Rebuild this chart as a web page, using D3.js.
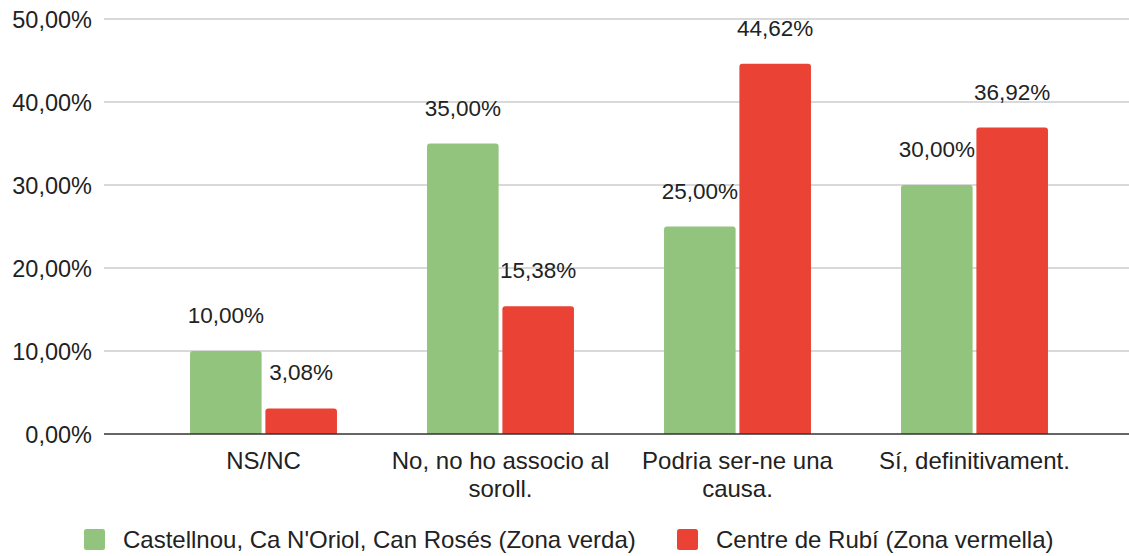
<!DOCTYPE html>
<html>
<head>
<meta charset="utf-8">
<script src="https://cdn.jsdelivr.net/npm/d3@7"></script>
<style>
	body { margin: 0; background: #fff; }
	text { font-family: "Liberation Sans", Arial, sans-serif; fill: #222; }
</style>
</head>
<body>
<svg id="chart" width="1129" height="556"></svg>
<script>
var categories = ["NS/NC", "No, no ho associo al soroll.", "Podria ser-ne una causa.", "Sí, definitivament."];
var series_names = ["Castellnou, Ca N'Oriol, Can Rosés (Zona verda)", "Centre de Rubí (Zona vermella)"];
var verda = [10.00, 35.00, 25.00, 30.00];
var vermella = [3.08, 15.38, 44.62, 36.92];
var y_ticks = [0, 10, 20, 30, 40, 50];
var colors = ["#93c47d", "#ea4335"];

var svg = d3.select("#chart");

var x = d3.scaleBand()
	.domain(categories)
	.range([145, 1093])
	.paddingInner(0.38)
	.paddingOuter(0.19);

var xInner = d3.scaleBand()
	.domain([0, 1])
	.range([0, x.bandwidth()])
	.paddingInner(0.05);

var y = d3.scaleLinear()
	.domain([0, 50])
	.range([434, 19]);

var fmt = function(v) { return v.toFixed(2).replace(".", ",") + "%"; };

// gridlines
svg.append("g")
	.selectAll("line")
	.data(y_ticks.slice(1))
	.enter()
	.append("line")
	.attr("x1", 104)
	.attr("x2", 1129)
	.attr("y1", function(d) { return y(d); })
	.attr("y2", function(d) { return y(d); })
	.attr("stroke", "#cccccc")
	.attr("stroke-width", 1.5);

// y labels
svg.append("g")
	.selectAll("text")
	.data(y_ticks)
	.enter()
	.append("text")
	.attr("x", 92)
	.attr("y", function(d) { return y(d) + 9; })
	.attr("text-anchor", "end")
	.attr("font-size", 23.5)
	.text(function(d) { return fmt(d); });

var rows = categories.map(function(c, i) {
	return { cat: c, vals: [verda[i], vermella[i]] };
});

var groups = svg.selectAll(".group")
	.data(rows)
	.enter()
	.append("g")
	.attr("class", "group")
	.attr("transform", function(d) { return "translate(" + x(d.cat) + ",0)"; });

groups.selectAll("path")
	.data(function(d) { return d.vals.map(function(v, k) { return { k: k, v: v }; }); })
	.enter()
	.append("path")
	.attr("d", function(d) {
		var x0 = xInner(d.k), w = xInner.bandwidth(), t = y(d.v), b = y(0), r = 3;
		return "M" + x0 + "," + b + "V" + (t + r) + "Q" + x0 + "," + t + " " + (x0 + r) + "," + t +
			"H" + (x0 + w - r) + "Q" + (x0 + w) + "," + t + " " + (x0 + w) + "," + (t + r) + "V" + b + "Z";
	})
	.attr("fill", function(d) { return colors[d.k]; });

groups.selectAll(".val")
	.data(function(d) { return d.vals.map(function(v, k) { return { k: k, v: v }; }); })
	.enter()
	.append("text")
	.attr("class", "val")
	.attr("x", function(d) { return xInner(d.k) + xInner.bandwidth() / 2; })
	.attr("y", function(d) { return y(d.v) - 28; })
	.attr("text-anchor", "middle")
	.attr("font-size", 22.5)
	.text(function(d) { return fmt(d.v); });

// baseline
svg.append("line")
	.attr("x1", 104)
	.attr("x2", 1129)
	.attr("y1", y(0))
	.attr("y2", y(0))
	.attr("stroke", "#333")
	.attr("stroke-width", 1.5);

// category labels, wrapped
var wraps = [["NS/NC"], ["No, no ho associo al", "soroll."], ["Podria ser-ne una", "causa."], ["Sí, definitivament."]];
svg.append("g")
	.selectAll("text")
	.data(categories)
	.enter()
	.append("text")
	.attr("text-anchor", "middle")
	.attr("font-size", 24)
	.attr("x", function(d) { return x(d) + x.bandwidth() / 2; })
	.attr("y", 469)
	.each(function(d, i) {
		var t = d3.select(this);
		wraps[i].forEach(function(line, j) {
			t.append("tspan")
				.attr("x", x(d) + x.bandwidth() / 2)
				.attr("dy", j == 0 ? 0 : 28)
				.text(line);
		});
	});

// legend
var legendX = [84, 677];
var legend = svg.append("g")
	.selectAll("g")
	.data(series_names)
	.enter()
	.append("g")
	.attr("transform", function(d, i) { return "translate(" + legendX[i] + ",529)"; });

legend.append("rect")
	.attr("width", 21)
	.attr("height", 21)
	.attr("rx", 2.5)
	.attr("fill", function(d, i) { return colors[i]; });

legend.append("text")
	.attr("x", 39)
	.attr("y", 19)
	.attr("font-size", 24)
	.text(function(d) { return d; });
</script>
</body>
</html>
